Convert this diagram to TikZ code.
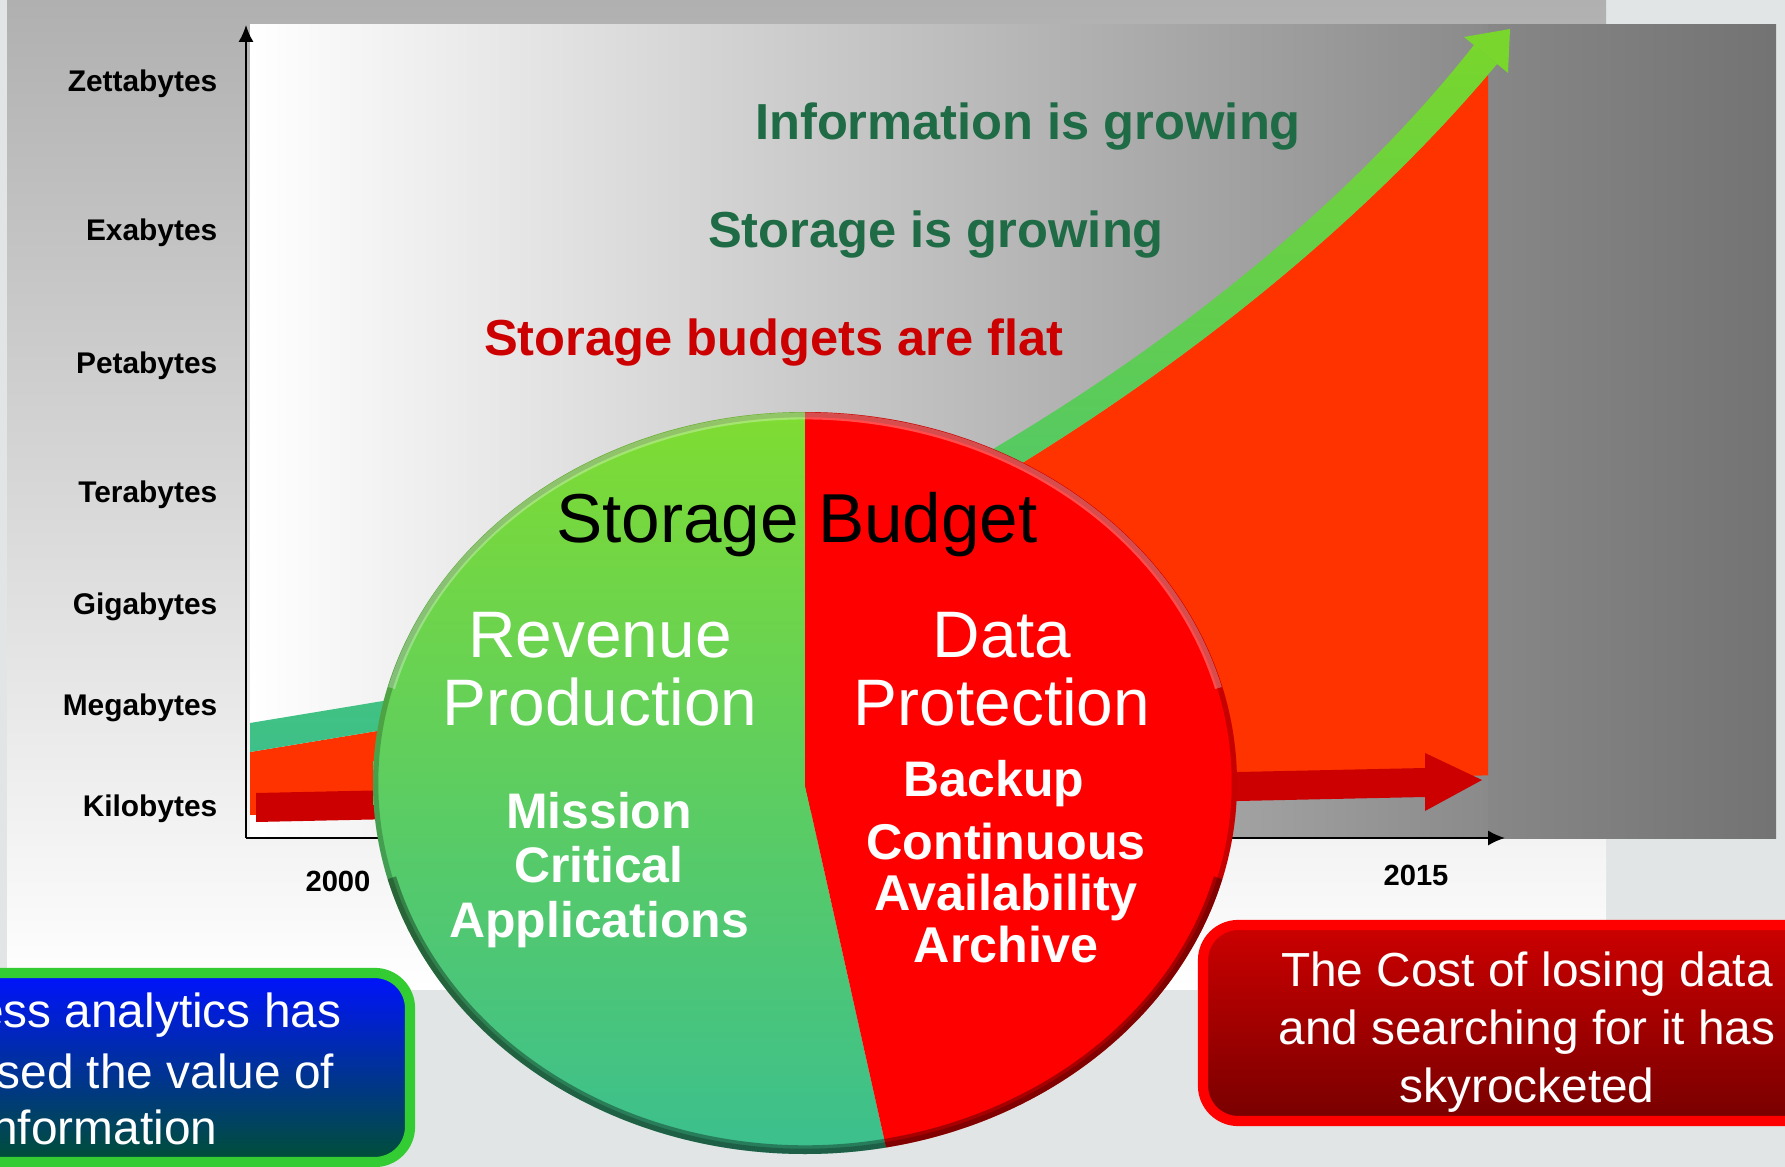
\documentclass[tikz,border=0pt]{standalone}
\usepackage{fontspec}
\setmainfont{Liberation Sans}
\usetikzlibrary{arrows.meta}
\definecolor{bggray}{HTML}{E2E5E5}
\definecolor{topgray}{HTML}{B0B0B0}
\definecolor{midgray}{HTML}{DADADA}
\definecolor{plotgray}{HTML}{8A8A8A}
\definecolor{hdgreen}{HTML}{1E6B45}
\definecolor{hdred}{HTML}{CC0000}
\definecolor{areared}{HTML}{FF3300}
\definecolor{bandteal}{HTML}{3DC089}
\definecolor{bandgreen}{HTML}{78D62C}
\definecolor{pietop}{HTML}{80DC32}
\definecolor{piebot}{HTML}{3BBF8E}
\definecolor{piered}{HTML}{FF0000}
\definecolor{boxblue}{HTML}{0012FF}
\definecolor{boxteal}{HTML}{005035}
\definecolor{boxgreen}{HTML}{33CC33}
\definecolor{boxdark}{HTML}{780000}
\tikzset{
  sizelab/.style={anchor=east, inner sep=0pt, font=\bfseries\fontsize{8.5}{10}\selectfont},
  yearlab/.style={inner sep=0pt, font=\bfseries\fontsize{8.3}{10}\selectfont},
  headtxt/.style={inner sep=0pt, font=\bfseries\fontsize{14.4}{17}\selectfont},
  pieline/.style={inner sep=0pt, text=white, align=center, font=\fontsize{18.7}{19.3}\selectfont},
  piebold/.style={inner sep=0pt, text=white, align=center, font=\bfseries\fontsize{14.2}{15.4}\selectfont},
  boxtxt/.style={inner sep=0pt, text=white, align=center, font=\fontsize{13.6}{16.4}\selectfont}
}
\begin{document}
\begin{tikzpicture}[x=0.01cm, y=-0.01cm, >={Latex[length=4.8pt,width=4.3pt]}]
\useasboundingbox (0,0) rectangle (1785,1167);
\clip (0,0) rectangle (1785,1167);
\fill[bggray] (0,0) rectangle (1785,1167);
\shade[top color=topgray, middle color=midgray, bottom color=white] (7,0) rectangle (1606,989);
\shade[left color=white, middle color=gray!22, right color=plotgray] (250,25) rectangle (1488,838);
\shade[left color=gray!94!white, right color=gray!90!black] (1488,25) rectangle (1776,838);

\begin{scope}
  \clip (250,0) rectangle (1488,838);
  \fill[areared] (250,815) -- (250,752) -- (383,730) .. controls (800,640) and (1250,360) .. (1497,64) -- (1497,775) -- cycle;
\end{scope}
\shade[top color=bandgreen, middle color=bandteal, bottom color=bandteal] (250,723) -- (383,701) .. controls (780,605) and (1230,355) .. (1474,45) -- (1497,64) .. controls (1250,360) and (800,640) .. (383,730) -- (250,752) -- cycle;
\fill[bandgreen] (1464,37) -- (1510,29) -- (1508,73) -- cycle;
\fill[hdred] (256,793) -- (1425,768) -- (1425,753) -- (1482,780) -- (1425,811) -- (1425,797) -- (256,822) -- cycle;

\coordinate (origin) at (246,838);
\coordinate (ytop) at (246,25);
\coordinate (xend) at (1505,838);
\draw[->, line width=0.6pt] (origin) -- (ytop);
\draw[->, line width=0.6pt] (origin) -- (xend);

\node[sizelab] (zetta) at (218,84) {Zettabytes};
\node[sizelab] (exa) at (218,233) {Exabytes};
\node[sizelab] (peta) at (218,366) {Petabytes};
\node[sizelab] (tera) at (218,495) {Terabytes};
\node[sizelab] (giga) at (218,607) {Gigabytes};
\node[sizelab] (mega) at (218,708) {Megabytes};
\node[sizelab] (kilo) at (218,809) {Kilobytes};
\node[yearlab] (yfirst) at (338,881) {2000};
\node[yearlab] (ylast) at (1416,875) {2015};

\node[headtxt, text=hdgreen] (infogrow) at (1028,127) {Information is growing};
\node[headtxt, text=hdgreen] (storgrow) at (936,235) {Storage is growing};
\node[headtxt, text=hdred] (budflat) at (774,343) {Storage budgets are flat};

\begin{scope}
  \clip (805,783) ellipse [x radius=432, y radius=371];
  \shade[top color=pietop, bottom color=piebot] (370,410) -- (805,410) -- (805,785) -- (888,1156) -- (370,1156) -- cycle;
  \fill[piered] (805,410) -- (1240,410) -- (1240,1156) -- (888,1156) -- (805,785) -- cycle;
  \draw[black, opacity=.22, line width=3pt] (805,783) ellipse [x radius=432, y radius=371];
  \draw[black, opacity=.35, line width=5pt] (805,783) ++(15:432 and 371) arc[start angle=15, end angle=165, x radius=432, y radius=371];
  \draw[white, opacity=.3, line width=2pt] (805,783) ++(195:428 and 367) arc[start angle=195, end angle=345, x radius=428, y radius=367];
\end{scope}

\node[inner sep=0pt, font=\fontsize{19.7}{22}\selectfont] (budget) at (797,525) {Storage Budget};
\node[pieline] (revenue) at (600,669) {Revenue\\Production};
\node[pieline] (protect) at (1002,669) {Data\\Protection};
\node[piebold] (mission) at (599,870) {Mission\\Critical\\Applications};
\node[piebold] (backup) at (994,784) {Backup};
\node[piebold, font=\bfseries\fontsize{14.3}{14.6}\selectfont] (contav) at (1006,893) {Continuous\\Availability\\Archive};

\draw[draw=boxgreen, line width=2.9pt, rounded corners=10pt, top color=boxblue, middle color=blue!60!teal, bottom color=boxteal] (-100,973) rectangle (410,1162);
\node[boxtxt, anchor=east] (anaone) at (342,1015) {ess analytics has};
\node[boxtxt, anchor=east] (anatwo) at (335,1071) {sed the value of};
\node[boxtxt, anchor=east] (anathree) at (218,1127) {nformation};

\draw[draw=piered, line width=2.9pt, rounded corners=10pt, top color=hdred, bottom color=boxdark] (1203,925) rectangle (1900,1121);
\node[boxtxt] (costbox) at (1527,1032) {The Cost of losing data\\and searching for it has\\skyrocketed};
\end{tikzpicture}
\end{document}
